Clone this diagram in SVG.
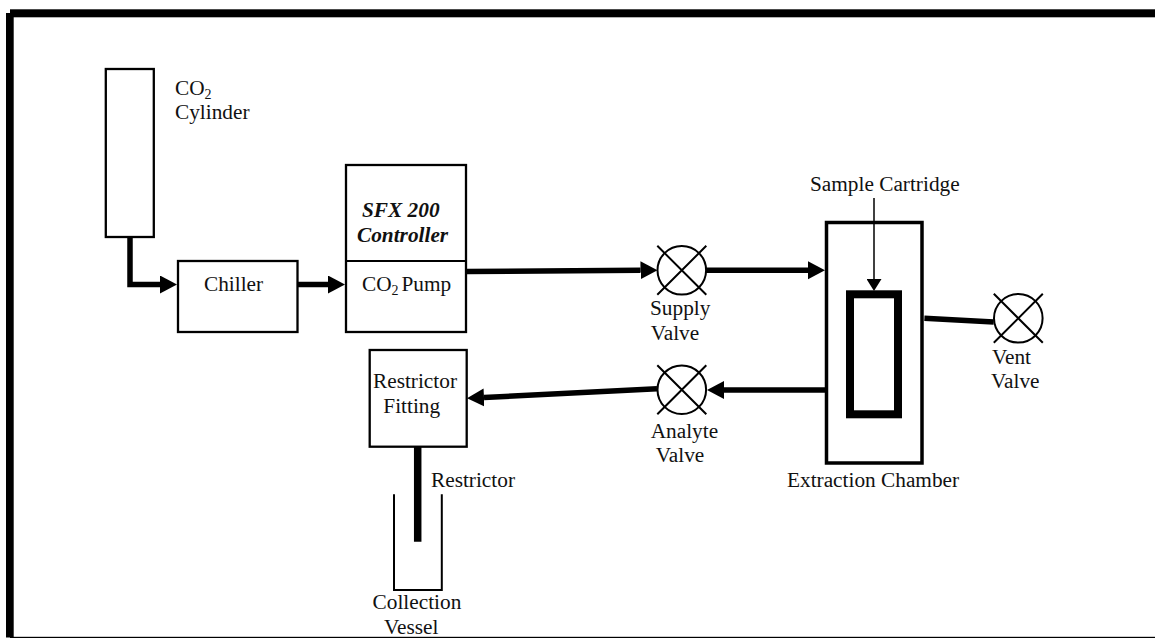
<svg xmlns="http://www.w3.org/2000/svg" width="1155" height="639" viewBox="0 0 1155 639">
<style>
text{font-family:"Liberation Serif","Times New Roman",serif;font-size:21.3px;fill:#111}
.sub{font-size:14px}
.bi{font-weight:bold;font-style:italic}
.box{fill:#fff;stroke:#000;stroke-width:2.3}
.thick{fill:none;stroke:#000;stroke-width:5.5;stroke-linejoin:miter}
.thin{fill:none;stroke:#000;stroke-width:1.5}
.v{fill:#fff;stroke:#000;stroke-width:2}
</style>
<defs>
<marker id="head" markerUnits="userSpaceOnUse" markerWidth="18" markerHeight="20" refX="0" refY="9" orient="auto"><path d="M0 0L17 9L0 18Z" fill="#000"/></marker>
<marker id="headThin" markerUnits="userSpaceOnUse" markerWidth="16" markerHeight="15" refX="0" refY="7.5" orient="auto"><path d="M0 0L12 7.5L0 15Z" fill="#000"/></marker>
<g id="valve"><circle r="24.3" class="v"/><path d="M-24.5 -24.5L24.5 24.5M24.5 -24.5L-24.5 24.5" class="v"/></g>
</defs>
<rect width="1155" height="639" fill="#fff"/>
<g id="frame" fill="#000">
<rect x="10" y="9.3" width="1145" height="8"/>
<rect x="6" y="13" width="7.7" height="624.5"/>
<rect x="10" y="636.8" width="1145" height="1.2"/>
</g>
<g id="connectors">
<path class="thick" d="M130 237V284.5H160" marker-end="url(#head)"/>
<path class="thick" d="M298 284.5H328" marker-end="url(#head)"/>
<path class="thick" d="M467 271.5L640.5 270.3" marker-end="url(#head)"/>
<path class="thick" d="M706 270.3H808" marker-end="url(#head)"/>
<path class="thick" d="M924.4 318.3L993.7 322"/>
<path class="thick" d="M825 390H724" marker-end="url(#head)"/>
<path class="thick" d="M657 388.7L484 397.5" marker-end="url(#head)"/>
<path class="thin" d="M874 198V279" marker-end="url(#headThin)"/>
<path fill="none" stroke="#000" stroke-width="7.5" d="M417.7 447V541.7"/>
</g>
<g id="cylinder"><rect class="box" x="105.8" y="69" width="48" height="168"/>
<text x="175" y="94.7">CO<tspan class="sub" dy="4">2</tspan></text><text x="175" y="119">Cylinder</text></g>
<g id="chiller"><rect class="box" x="178" y="261" width="119.5" height="71"/><text x="204" y="291">Chiller</text></g>
<g id="pump"><rect class="box" x="346" y="165" width="120" height="167"/><path d="M346 261H466" stroke="#000" stroke-width="2"/>
<text class="bi" x="362" y="217">SFX 200</text><text class="bi" x="357" y="242">Controller</text>
<text x="362" y="291">CO<tspan class="sub" dy="4">2</tspan><tspan x="401.5" dy="-4">Pump</tspan></text></g>
<g id="supply-valve"><use href="#valve" x="681.8" y="270.3"/><text x="650" y="315">Supply</text><text x="650.7" y="339.5">Valve</text></g>
<g id="analyte-valve"><use href="#valve" x="681.8" y="389.7"/><text x="650.7" y="438">Analyte</text><text x="655.8" y="462">Valve</text></g>
<g id="vent-valve"><use href="#valve" x="1018.3" y="318.3"/><text x="992" y="364">Vent</text><text x="991" y="388">Valve</text></g>
<g id="extraction-chamber"><rect x="826.5" y="222.5" width="95.5" height="240.5" fill="none" stroke="#000" stroke-width="3.5"/><text x="787" y="487">Extraction Chamber</text></g>
<g id="sample-cartridge"><rect x="850" y="294.3" width="48" height="120" fill="none" stroke="#000" stroke-width="8"/><text x="810" y="190.5">Sample Cartridge</text></g>
<g id="restrictor-fitting"><rect class="box" x="369.7" y="350" width="97" height="96.7"/><text x="373" y="388.3">Restrictor</text><text x="383.3" y="413.3">Fitting</text></g>
<g id="restrictor"><text x="431" y="487">Restrictor</text></g>
<g id="collection-vessel"><path d="M394 494.3V590H441.8V494.3" fill="none" stroke="#000" stroke-width="2"/><text x="372.6" y="609">Collection</text><text x="384" y="634">Vessel</text></g>
</svg>
